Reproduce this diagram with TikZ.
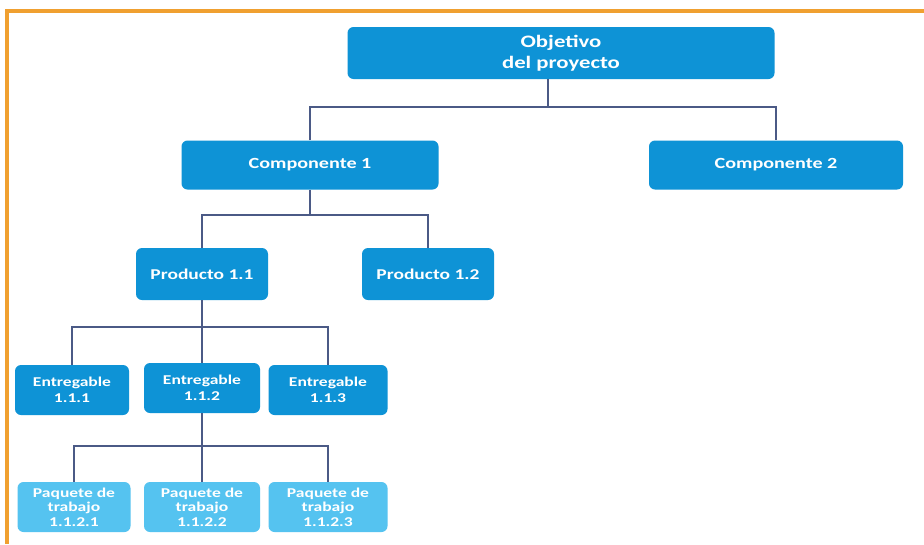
\documentclass[tikz,border=0pt]{standalone}
\usepackage{fontspec}
\setmainfont{Carlito}[FakeStretch=1.3]
\definecolor{boxblue}{HTML}{0E93D6}
\definecolor{lightblue}{HTML}{55C3F0}
\definecolor{linecol}{HTML}{4B5A86}
\definecolor{framecol}{HTML}{F0A030}
\begin{document}
\begin{tikzpicture}[x=1pt,y=-1pt,
  box/.style={draw=none, fill=boxblue, rounded corners=6pt, text=white, font=\bfseries, align=center, inner sep=0pt},
  lbox/.style={box, fill=lightblue},
  link/.style={draw=linecol, line width=2.2pt}]
\useasboundingbox (0,0) rectangle (924,544);
\fill[white] (0,0) rectangle (924,544);
\draw[framecol, line width=4pt] (924,11) -- (7,11) -- (7,544);

\node[box, minimum width=427pt, minimum height=52pt, font=\bfseries\fontsize{17.5}{21}\selectfont] (obj) at (561,53) {Objetivo\\del proyecto};
\node[box, minimum width=257pt, minimum height=49pt, font=\bfseries\fontsize{15.5}{18}\selectfont] (c1) at (310,165) {Componente 1};
\node[box, minimum width=254pt, minimum height=49pt, font=\bfseries\fontsize{15.5}{18}\selectfont] (c2) at (776,165) {Componente 2};
\node[box, minimum width=132pt, minimum height=52pt, font=\bfseries\fontsize{15}{17}\selectfont] (p1) at (202,274) {Producto 1.1};
\node[box, minimum width=132pt, minimum height=52pt, font=\bfseries\fontsize{15}{17}\selectfont] (p2) at (428,274) {Producto 1.2};
\node[box, minimum width=114pt, minimum height=50pt, font=\bfseries\fontsize{13.5}{16}\selectfont] (e1) at (72,390) {Entregable\\1.1.1};
\node[box, minimum width=116pt, minimum height=50pt, font=\bfseries\fontsize{13.5}{16}\selectfont] (e2) at (202,388) {Entregable\\1.1.2};
\node[box, minimum width=119pt, minimum height=50pt, font=\bfseries\fontsize{13.5}{16}\selectfont] (e3) at (328,390) {Entregable\\1.1.3};
\node[lbox, minimum width=113pt, minimum height=50pt, font=\bfseries\fontsize{13.5}{14.5}\selectfont] (w1) at (74,507) {Paquete de\\trabajo\\1.1.2.1};
\node[lbox, minimum width=116pt, minimum height=50pt, font=\bfseries\fontsize{13.5}{14.5}\selectfont] (w2) at (202,507) {Paquete de\\trabajo\\1.1.2.2};
\node[lbox, minimum width=119pt, minimum height=50pt, font=\bfseries\fontsize{13.5}{14.5}\selectfont] (w3) at (328,507) {Paquete de\\trabajo\\1.1.2.3};

\draw[link] (obj.south -| 548,0) -- (548,107) coordinate (j0);
\draw[link] (c1.north) |- (j0) -| (c2.north);
\draw[link] (c1.south) -- (310,215) coordinate (j1);
\draw[link] (p1.north) |- (j1) -| (p2.north);
\draw[link] (p1.south) -- (202,327) coordinate (j2);
\draw[link] (e1.north) |- (j2) -| (e3.north);
\draw[link] (j2) -- (e2.north);
\draw[link] (e2.south) -- (202,446) coordinate (j3);
\draw[link] (w1.north) |- (j3) -| (w3.north);
\draw[link] (j3) -- (w2.north);
\end{tikzpicture}
\end{document}
